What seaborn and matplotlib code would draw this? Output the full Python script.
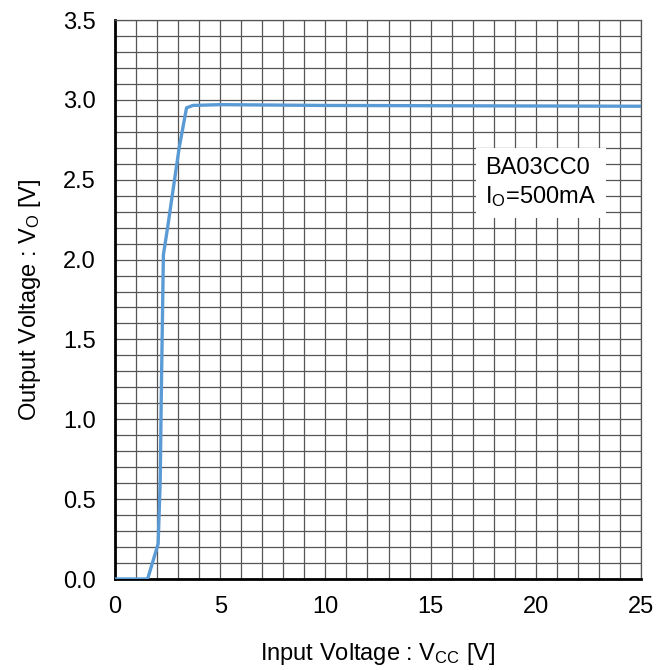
import matplotlib
matplotlib.use("Agg")
import matplotlib.pyplot as plt
import seaborn as sns
import pandas as pd
from matplotlib.ticker import MultipleLocator

# output voltage vs input voltage
vcc = [0.0, 1.55, 2.05, 2.15, 2.2, 2.3, 2.5, 3.05, 3.4, 3.7, 5.0, 10.0, 25.0]
vo = [0.0, 0.0, 0.22, 0.62, 1.15, 2.03, 2.2, 2.7, 2.95, 2.965, 2.97, 2.965, 2.96]

df = pd.DataFrame({"Vcc": vcc, "Vo": vo})

sns.set_style("white")
plt.rcParams["font.family"] = ["Liberation Sans", "DejaVu Sans"]
plt.rcParams["mathtext.fontset"] = "custom"
plt.rcParams["mathtext.rm"] = "Liberation Sans"
plt.rcParams["text.color"] = "black"
plt.rcParams["axes.labelcolor"] = "black"
plt.rcParams["xtick.color"] = "black"
plt.rcParams["ytick.color"] = "black"

fig = plt.figure(figsize=(6.64, 6.70), dpi=100)
ax = fig.add_axes([115 / 664, 1 - 579 / 670, (641 - 115) / 664, (579 - 20) / 670])

sns.lineplot(data=df, x="Vcc", y="Vo", ax=ax, color="#5B9BD5", linewidth=2.4, zorder=3)

ax.set_xlim(0, 25)
ax.set_ylim(0, 3.5)
ax.xaxis.set_major_locator(MultipleLocator(5))
ax.xaxis.set_minor_locator(MultipleLocator(1))
ax.yaxis.set_major_locator(MultipleLocator(0.5))
ax.yaxis.set_minor_locator(MultipleLocator(0.1))
ax.yaxis.set_major_formatter(matplotlib.ticker.FormatStrFormatter("%.1f"))
ax.grid(which="both", color="#555555", linewidth=0.9)
ax.set_axisbelow(True)
ax.tick_params(which="both", length=0, labelsize=17)
ax.tick_params(axis="x", pad=12)
ax.tick_params(axis="y", pad=14)

for s in ["top", "right"]:
    ax.spines[s].set_color("#555555")
    ax.spines[s].set_linewidth(0.9)
for s in ["left", "bottom"]:
    ax.spines[s].set_color("black")
    ax.spines[s].set_linewidth(2)

ax.set_xlabel(r"Input Voltage : V$\mathregular{_{CC}}$ [V]", fontsize=17, labelpad=17)
ax.set_ylabel(r"Output Voltage : V$\mathregular{_{O}}$ [V]", fontsize=17, labelpad=14)

ax.text(17.6, 2.48, "BA03CC0\n" + r"I$\mathregular{_{O}}$=500mA", fontsize=17,
        ha="left", va="center", linespacing=1.25, zorder=4,
        bbox=dict(facecolor="white", edgecolor="none", pad=7))

fig.savefig("out.png", dpi=100)
